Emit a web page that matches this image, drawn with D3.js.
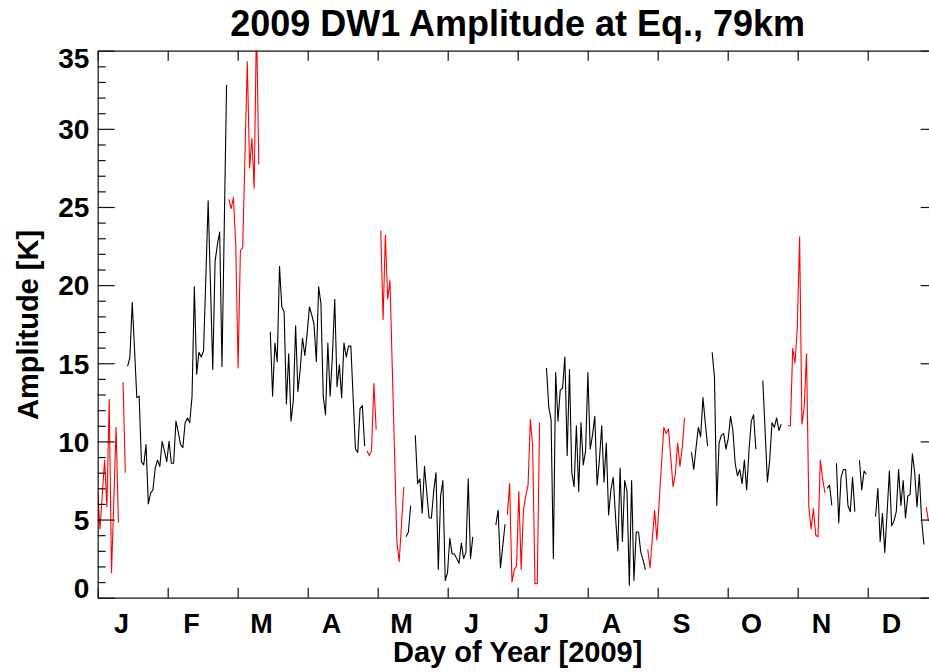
<!DOCTYPE html>
<html>
<head>
<meta charset="utf-8">
<script src="https://cdn.jsdelivr.net/npm/d3@7"></script>
<style>
  body { margin: 0; background: #fff; }
  text { font-family: "Liberation Sans", Arial, Helvetica, sans-serif; font-weight: bold; fill: #000; }
</style>
</head>
<body>
<svg id="chart" width="929" height="672"></svg>
<script>
// Month initials shown along the day-of-year axis
const monthLabels = ["J", "F", "M", "A", "M", "J", "J", "A", "S", "O", "N", "D"];
// Amplitude axis ticks [K]
const yMajorTicks = [0, 5, 10, 15, 20, 25, 30, 35];
const yMinorTicks = d3.range(0, 36).filter(v => v % 5 !== 0);

// Daily DW1 amplitude [K] at the equator, 79 km, starting on day 1 of 2009 (null = no data)
const amplitude = [
  6.8, 4.4, 6.6, 8.8, 5.8, 12.7, 1.6, 6.2, 10.9, 4.8,
  null, 13.8, 8.0, 14.8, 15.4, 18.9, 15.9, 12.8, 12.9, 8.7,
  8.5, 9.8, 6.0, 6.7, 6.9, 8.3, 8.8, 8.4, 10.0, 9.4,
  8.7, 10.0, 8.6, 8.6, 11.3, 10.6, 9.8, 9.6, 11.2, 11.5,
  11.2, 12.9, 19.9, 14.3, 15.7, 15.4, 15.8, 20.5, 25.4, 20.0,
  14.6, 21.5, 22.6, 23.4, 14.8, 23.8, 32.8, 25.5, 24.9, 25.6,
  22.5, 14.7, 22.2, 22.4, 28.3, 34.3, 27.5, 29.4, 26.2, 37.0,
  27.7, null, null, null, null, 17.0, 12.9, 16.3, 15.1, 21.2,
  18.6, 18.3, 12.4, 15.6, 11.3, 12.6, 17.4, 13.2, 14.6, 16.6,
  15.5, 16.9, 18.6, 18.1, 17.5, 15.1, 19.9, 18.8, 12.9, 11.7,
  16.3, 12.9, 15.5, 19.1, 13.5, 14.9, 12.8, 16.3, 15.4, 16.1,
  16.1, 12.8, 9.5, 9.3, 12.1, 12.3, 9.7, 9.4, 9.1, 9.4,
  13.7, 10.75, null, 23.5, 17.8, 23.2, 19.1, 20.3, 14.7, 9.2,
  3.6, 2.3, 4.7, 7.1, 3.9, 4.2, 5.9, null, 10.4, 7.3,
  7.6, 5.4, 8.4, 6.7, 5.1, 5.1, 6.8, 8.0, 1.8, 6.5,
  7.5, 1.1, 1.6, 3.8, 2.8, 2.8, 2.5, 2.2, 3.5, 2.5,
  2.9, 7.6, 2.5, 3.9, null, null, null, null, null, null,
  null, null, null, 4.65, 5.6, 1.9, 3.3, 4.7, 5.3, 7.3,
  1.0, 1.8, 2.0, 6.8, 1.8, 5.6, 6.5, 7.2, 11.4, 9.7,
  0.9, 0.9, 11.2, null, null, 14.7, 12.2, 11.4, 2.5, 14.4,
  11.3, 13.3, 13.4, 15.4, 9.1, 14.6, 8.0, 7.1, 11.0, 6.8,
  11.2, 8.5, 9.4, 14.4, 9.5, 10.4, 11.6, 7.2, 8.8, 11.0,
  7.4, 9.9, 5.3, 6.9, 7.7, 5.2, 3.0, 8.3, 3.6, 7.5,
  6.8, 0.8, 7.5, 1.1, 4.2, 4.2, 2.9, 2.4, 1.8, 3.1,
  1.9, 3.8, 5.6, 3.7, 6.2, 8.6, 10.9, 10.5, 10.8, 9.0,
  7.1, 7.9, 9.9, 8.4, 9.6, 11.5, null, null, 9.3, 8.2,
  9.6, 10.9, 10.3, 12.8, 11.2, 9.7, null, 15.7, 14.1, 5.9,
  9.9, 10.4, 10.5, 9.5, 10.2, 11.6, 10.7, 8.6, 7.8, 8.2,
  7.3, 8.8, 6.9, 9.4, 11.3, 11.7, 9.5, null, null, 13.9,
  10.7, 7.4, 8.8, 11.2, 10.9, 11.5, 10.7, 11.1, null, null,
  11.0, 11.0, 15.95, 15.0, 17.3, 23.1, 11.1, 12.2, 15.6, 5.8,
  4.4, 5.7, 4.0, 3.9, 8.8, 7.6, 6.7, 7.0, 7.2, 5.9,
  null, 8.6, 4.8, 7.7, 8.2, 8.2, 5.9, 5.5, 7.7, 5.5,
  null, 8.8, 6.9, 8.1, 7.9, null, null, null, 5.2, 7.0,
  3.6, 5.4, 2.9, 5.4, 8.1, 4.6, 4.9, 5.5, 8.2, 5.9,
  7.5, 5.1, 6.5, 6.6, 9.2, 8.0, 5.8, 7.9, 5.0, 3.4,
  5.8, 4.9
];

// Day ranges (day of year, inclusive) drawn in red
const redDayRanges = [[1, 13], [58, 71], [118, 134], [179, 193], [240, 256], [301, 317], [361, 362]];

const svg = d3.select("#chart");
const W = 929, H = 672;
svg.append("rect").attr("width", W).attr("height", H).attr("fill", "#fff");

const plot = { left: 97.7, right: 937.7, top: 50.7, bottom: 597.7 };

const x = d3.scaleLinear().domain([1, 366]).range([plot.left, plot.right]);
const y = d3.scaleLinear().domain([0, 35]).range([plot.bottom, plot.top]);

const monthLen = 365 / 12;
const monthTicks = d3.range(0, 13).map(k => 1 + k * monthLen);
const monthLabelDays = d3.range(0, 12).map(k => 1 + k * monthLen + monthLen / 3);

const data = amplitude.map((v, i) => {
  const day = i + 1;
  const red = redDayRanges.some(([a, b]) => day >= a && day <= b);
  return { day, v, red };
});

// Clip region for the data curves
svg.append("clipPath").attr("id", "plotClip")
  .append("rect")
  .attr("x", plot.left).attr("y", plot.top)
  .attr("width", plot.right - plot.left).attr("height", plot.bottom - plot.top);

const lineFor = flag => d3.line()
  .defined(d => d.v !== null && d.red === flag)
  .x(d => x(d.day))
  .y(d => y(d.v));

const curves = svg.append("g").attr("clip-path", "url(#plotClip)");
curves.append("path").datum(data)
  .attr("d", lineFor(false))
  .attr("fill", "none").attr("stroke", "#000").attr("stroke-width", 1.1)
  .attr("stroke-linejoin", "round");
curves.append("path").datum(data)
  .attr("d", lineFor(true))
  .attr("fill", "none").attr("stroke", "#ff0000").attr("stroke-width", 1.1)
  .attr("stroke-linejoin", "round");

// Axes: inward-pointing ticks on all four sides
function styleAxis(g) {
  g.selectAll("path.domain").attr("stroke", "#111").attr("stroke-width", 1.2);
  g.selectAll(".tick line").attr("stroke", "#111").attr("stroke-width", 1.2);
}

// Left axis: major ticks with labels, then minor ticks
const leftMajor = svg.append("g")
  .attr("transform", `translate(${plot.left},0)`)
  .call(d3.axisLeft(y).tickValues(yMajorTicks).tickSizeInner(-17).tickSizeOuter(0).tickPadding(8.4)
    .tickFormat(d3.format("d")));
leftMajor.attr("font-family", null);
leftMajor.selectAll("text")
  .attr("font-size", 28)
  .attr("dy", d => d === 0 ? "-0.02em" : (d === 35 ? "0.6em" : "0.35em"));
styleAxis(leftMajor);

const leftMinor = svg.append("g")
  .attr("transform", `translate(${plot.left},0)`)
  .call(d3.axisLeft(y).tickValues(yMinorTicks).tickSizeInner(-8).tickSizeOuter(0).tickFormat(""));
leftMinor.select("path.domain").remove();
styleAxis(leftMinor);

// Right axis
const rightMajor = svg.append("g")
  .attr("transform", `translate(${plot.right},0)`)
  .call(d3.axisRight(y).tickValues(yMajorTicks).tickSizeInner(-17).tickSizeOuter(0).tickFormat(""));
styleAxis(rightMajor);
const rightMinor = svg.append("g")
  .attr("transform", `translate(${plot.right},0)`)
  .call(d3.axisRight(y).tickValues(yMinorTicks).tickSizeInner(-8).tickSizeOuter(0).tickFormat(""));
rightMinor.select("path.domain").remove();
styleAxis(rightMinor);

// Bottom axis: ticks at month boundaries, initials placed within each month
const bottomTicks = svg.append("g")
  .attr("transform", `translate(0,${plot.bottom})`)
  .call(d3.axisBottom(x).tickValues(monthTicks).tickSizeInner(-10).tickSizeOuter(0).tickFormat(""));
styleAxis(bottomTicks);

const bottomLabels = svg.append("g")
  .attr("transform", `translate(0,${plot.bottom})`)
  .call(d3.axisBottom(x).tickValues(monthLabelDays).tickSize(0).tickPadding(16)
    .tickFormat((d, i) => monthLabels[i]));
bottomLabels.attr("font-family", null);
bottomLabels.select("path.domain").remove();
bottomLabels.selectAll("text").attr("font-size", 27);

// Top axis
const topTicks = svg.append("g")
  .attr("transform", `translate(0,${plot.top})`)
  .call(d3.axisTop(x).tickValues(monthTicks).tickSizeInner(-10).tickSizeOuter(0).tickFormat(""));
styleAxis(topTicks);

// Titles
svg.append("text")
  .attr("x", (plot.left + plot.right) / 2).attr("y", 36)
  .attr("text-anchor", "middle").attr("font-size", 36)
  .text("2009 DW1 Amplitude at Eq., 79km");

svg.append("text")
  .attr("x", (plot.left + plot.right) / 2).attr("y", 662)
  .attr("text-anchor", "middle").attr("font-size", 29)
  .text("Day of Year [2009]");

svg.append("text")
  .attr("transform", "translate(37.5,325) rotate(-90)")
  .attr("text-anchor", "middle").attr("font-size", 29)
  .text("Amplitude [K]");
</script>
</body>
</html>
